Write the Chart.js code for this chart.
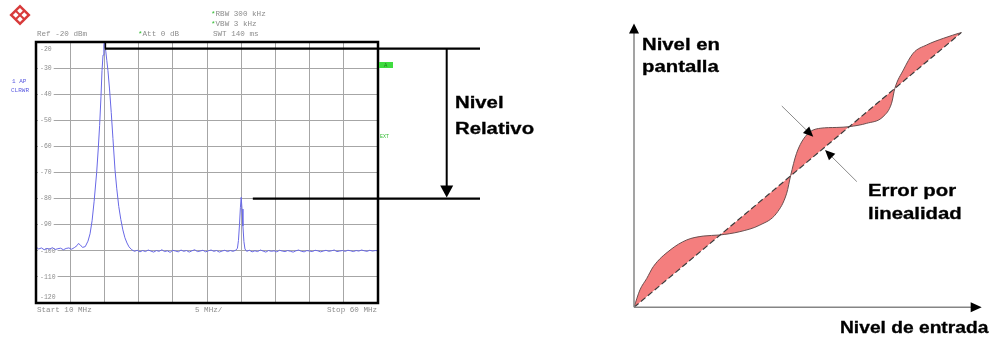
<!DOCTYPE html>
<html>
<head>
<meta charset="utf-8">
<script src="https://cdn.jsdelivr.net/npm/chart.js@4.4.1/dist/chart.umd.min.js"></script>
<style>
  html, body { margin: 0; padding: 0; background: #fff; }
  #wrap { position: relative; width: 1004px; height: 340px; overflow: hidden; }
  #spec { position: absolute; left: 0; top: 0; }
  #lin { position: absolute; left: 600px; top: 0; }
  .lbl { position: absolute; font: bold 16px "Liberation Sans", Arial, sans-serif; color: #000;
         transform: scaleX(1.27); transform-origin: 0 0; white-space: nowrap; line-height: 1;
         -webkit-text-stroke: 0.3px #000; }
  .lbl.narrow { transform: scaleX(1.2); }
  .mono { position: absolute; font: 7.6px "Liberation Mono", monospace; color: #8c8c8c;
          white-space: nowrap; line-height: 1; }
  .mono .g { color: #33bb33; }
  .blue { color: #5a5ae0; font-size: 6px; }
</style>
</head>
<body>
<div id="wrap">
  <canvas id="spec" width="540" height="340"></canvas>
  <canvas id="lin" width="404" height="340"></canvas>

  <div class="mono" style="left:211px;top:11px;"><span class="g">*</span>RBW  300 kHz</div>
  <div class="mono" style="left:211px;top:20.5px;"><span class="g">*</span>VBW  3 kHz</div>
  <div class="mono" style="left:37px;top:30.5px;">Ref -20 dBm</div>
  <div class="mono" style="left:138px;top:30.5px;"><span class="g">*</span>Att  0 dB</div>
  <div class="mono" style="left:213px;top:30.5px;">SWT  140 ms</div>
  <div class="mono blue" style="left:12px;top:79px;">1 AP</div>
  <div class="mono blue" style="left:11px;top:88px;">CLRWR</div>
  <div class="mono" style="left:37px;top:307px;">Start 10 MHz</div>
  <div class="mono" style="left:195px;top:306.5px;">5 MHz/</div>
  <div class="mono" style="left:327px;top:306.5px;">Stop 60 MHz</div>
  <div class="mono g" style="left:380px;top:135px;font-size:5px;color:#33bb33;">EXT</div>

  <div class="lbl" style="left:455px;top:94.5px;">Nivel</div>
  <div class="lbl" style="left:455px;top:120.5px;">Relativo</div>

  <div class="lbl" style="left:642px;top:37.2px;">Nivel en</div>
  <div class="lbl" style="left:642px;top:59px;">pantalla</div>
  <div class="lbl" style="left:868px;top:183.2px;">Error por</div>
  <div class="lbl" style="left:868px;top:205.8px;">linealidad</div>
  <div class="lbl narrow" style="left:840px;top:319.8px;">Nivel de entrada</div>
</div>

<script>
// Spectrum analyser trace: frequency (MHz) and displayed level (dBm)
const traceFreqMHz = [
  10.0, 10.4, 10.8, 11.2, 11.6, 12.0, 12.4, 12.8, 13.2, 13.6, 14.0, 14.4, 14.8, 15.2, 15.6,
  16.0, 16.2, 16.5, 16.8, 17.2, 17.6, 17.9, 18.2, 18.5, 18.87, 19.1, 19.3, 19.5, 19.65, 19.8,
  19.92, 20.0, 20.08, 20.2, 20.35, 20.52, 20.75, 21.0, 21.25, 21.55, 21.8, 22.1, 22.4, 22.7,
  23.0, 23.3, 23.6, 24.0,
  24.4, 24.8, 25.2, 25.6, 26.0, 26.4, 26.8, 27.2, 27.6, 28.0, 28.4, 28.8, 29.2, 29.6, 30.0,
  30.4, 30.8, 31.2, 31.6, 32.0, 32.4, 32.8, 33.2, 33.6, 34.0, 34.4, 34.8, 35.2, 35.6, 36.0,
  36.4, 36.8, 37.2, 37.6, 38.0, 38.4, 38.8, 39.2,
  39.45, 39.6, 39.75, 39.88, 40.0, 40.12, 40.25, 40.4, 40.55,
  40.8, 41.2, 41.6, 42.0, 42.4, 42.8, 43.2, 43.6, 44.0, 44.4, 44.8, 45.2, 45.6, 46.0, 46.4,
  46.8, 47.2, 47.6, 48.0, 48.4, 48.8, 49.2, 49.6, 50.0, 50.4, 50.8, 51.2, 51.6, 52.0, 52.4,
  52.8, 53.2, 53.6, 54.0, 54.4, 54.8, 55.2, 55.6, 56.0, 56.4, 56.8, 57.2, 57.6, 58.0, 58.4,
  58.8, 59.2, 59.6, 60.0
];
const traceLevelDbm = [
  -98.6, -99.3, -98.9, -99.6, -99.1, -99.4, -98.8, -99.5, -99.2, -99.0, -99.6, -99.1, -98.9, -99.4, -98.8,
  -98.0, -97.2, -97.8, -98.7, -98.4, -96.3, -93.5, -88.5, -81.0, -70.0, -61.0, -52.0, -41.0, -31.0, -25.0,
  -21.0, -20.0, -21.0, -23.5, -27.0, -31.0, -38.0, -47.0, -57.0, -69.0, -76.0, -83.0, -88.0, -92.0,
  -95.0, -97.0, -98.5, -99.6,
  -100.2, -99.8, -100.4, -99.9, -100.3, -99.7, -100.1, -100.5, -99.9, -100.2, -99.6, -100.3, -100.0, -100.6, -99.8,
  -100.1, -100.4, -99.7, -100.2, -99.9, -100.5, -100.0, -99.6, -100.3, -100.1, -99.8, -100.4, -100.0, -99.7, -100.2,
  -99.9, -100.5, -100.1, -99.8, -100.3, -99.9, -100.2, -99.8,
  -99.0, -96.0, -90.0, -83.5, -79.5, -84.0, -90.5, -96.5, -99.3,
  -100.2, -99.8, -100.4, -100.0, -100.3, -99.7, -100.1, -100.5, -99.9, -100.2, -100.0, -100.4, -99.8, -100.1, -100.3,
  -99.9, -100.2, -100.5, -100.0, -99.7, -100.2, -100.4, -99.9, -100.1, -100.3, -99.8, -100.0, -100.4, -100.1, -99.8,
  -100.2, -100.0, -99.7, -100.3, -100.1, -99.9, -100.2, -99.8, -100.0, -100.3, -99.9, -100.1, -99.7, -100.0, -100.2,
  -99.8, -100.1, -99.9, -100.0
];
// Screen grid: 10 divisions of 5 MHz, 10 dB/div from the -20 dBm reference
const freqStartMHz = 10, freqStopMHz = 60, freqDivMHz = 5;
const refLevelDbm = -20, bottomLevelDbm = -120, levelDivDb = 10;
// Levels compared by the "Nivel Relativo" markers
const markerHighDbm = -22.5, markerLowDbm = -80;

// Transfer curve: ideal (dashed diagonal) and real display level vs. input level
const idealInput = [0, 100];
const idealOutput = [0, 100];
const realInput = [0, 1.8, 3.9, 5.9, 11.0, 16.1, 21.1, 26.2, 32.3, 38.4, 43.5, 46.6, 47.8, 49.6, 52.7,
                   56.8, 61.9, 65.7, 71.0, 76.0, 78.6, 79.6, 82.2, 85.2, 89.3, 94.4, 100];
const realOutput = [0, 6.3, 10.5, 14.8, 20.8, 24.5, 25.9, 26.3, 27.5, 29.9, 34.2, 41.5, 47.9, 56.0, 62.7,
                    65.1, 65.4, 65.7, 66.9, 69.3, 74.2, 79.6, 86.3, 92.4, 95.4, 97.8, 100];

const tracePoints = traceFreqMHz.map((f, i) => ({ x: f, y: traceLevelDbm[i] }));
const idealPoints = idealInput.map((v, i) => ({ x: v, y: idealOutput[i] }));
const realPoints = realInput.map((v, i) => ({ x: v, y: realOutput[i] }));

function arrowHead(ctx, tipX, tipY, fromX, fromY, len, half) {
  const a = Math.atan2(tipY - fromY, tipX - fromX);
  ctx.beginPath();
  ctx.moveTo(tipX, tipY);
  ctx.lineTo(tipX - len * Math.cos(a) + half * Math.sin(a), tipY - len * Math.sin(a) - half * Math.cos(a));
  ctx.lineTo(tipX - len * Math.cos(a) - half * Math.sin(a), tipY - len * Math.sin(a) + half * Math.cos(a));
  ctx.closePath();
  ctx.fill();
}

// Level labels of the analyser screen, under the trace
const screenLabels = {
  id: 'screenLabels',
  beforeDatasetsDraw(chart) {
    const { ctx, chartArea: ca, scales: { y } } = chart;
    ctx.save();
    ctx.font = '6.5px "Liberation Mono", monospace';
    ctx.textBaseline = 'middle';
    y.ticks.forEach(t => {
      let py = y.getPixelForValue(t.value);
      if (t.value === refLevelDbm) py += 7;
      if (t.value === bottomLevelDbm) py -= 6;
      const txt = String(t.value);
      const w = ctx.measureText(txt).width;
      ctx.fillStyle = '#fff';
      ctx.fillRect(ca.left + 2, py - 3, w + 4, 6);
      ctx.fillStyle = '#8c8c8c';
      ctx.fillText(txt, ca.left + 4, py);
    });
    ctx.restore();
  }
};

// Frame, logo and the relative-level markers of the analyser screen
const screenDecor = {
  id: 'screenDecor',
  afterDraw(chart) {
    const { ctx, chartArea: ca, scales: { x, y } } = chart;
    ctx.save();
    // screen frame
    ctx.strokeStyle = '#000';
    ctx.lineWidth = 2.5;
    ctx.strokeRect(ca.left, ca.top, ca.right - ca.left, ca.bottom - ca.top);
    // green marker flag at the right edge
    ctx.fillStyle = '#3fdc3f';
    ctx.fillRect(379, 62, 14, 6);
    ctx.fillStyle = '#1c7a1c';
    ctx.font = '5px "Liberation Sans", sans-serif';
    ctx.textBaseline = 'middle';
    ctx.fillText('A', 384, 65.2);
    // logo
    ctx.translate(20, 15);
    ctx.rotate(Math.PI / 4);
    ctx.fillStyle = '#d83a3a';
    ctx.fillRect(-7.5, -7.5, 15, 15);
    ctx.fillStyle = '#fff';
    ctx.fillRect(-5, -5, 4, 4); ctx.fillRect(1, -5, 4, 4);
    ctx.fillRect(-5, 1, 4, 4); ctx.fillRect(1, 1, 4, 4);
    ctx.setTransform(1, 0, 0, 1, 0, 0);
    // relative level markers
    const peakX = x.getPixelForValue(20);
    const yHigh = y.getPixelForValue(markerHighDbm);
    const yLow = y.getPixelForValue(markerLowDbm);
    const endX = 480, arrowX = 446.7;
    ctx.strokeStyle = '#000';
    ctx.lineWidth = 2.2;
    ctx.beginPath();
    ctx.moveTo(peakX + 0.5, yHigh); ctx.lineTo(endX, yHigh);
    ctx.moveTo(x.getPixelForValue(41.7), yLow); ctx.lineTo(endX, yLow);
    ctx.stroke();
    ctx.lineWidth = 1.5;
    ctx.beginPath();
    ctx.moveTo(peakX + 1, ca.top + 1); ctx.lineTo(peakX + 1, yHigh);
    ctx.stroke();
    ctx.lineWidth = 2;
    ctx.beginPath();
    ctx.moveTo(arrowX, yHigh); ctx.lineTo(arrowX, yLow - 11);
    ctx.stroke();
    ctx.fillStyle = '#000';
    arrowHead(ctx, arrowX, yLow - 1, arrowX, yHigh, 12, 6.5);
    ctx.restore();
  }
};

new Chart(document.getElementById('spec'), {
  type: 'line',
  data: {
    datasets: [{
      data: tracePoints,
      borderColor: 'rgb(104,104,230)',
      borderWidth: 1,
      pointRadius: 0,
      tension: 0,
      fill: false
    }]
  },
  options: {
    responsive: false,
    animation: false,
    events: [],
    layout: { padding: { left: 36, top: 42, right: 162, bottom: 37 } },
    plugins: { legend: { display: false }, tooltip: { enabled: false } },
    scales: {
      x: {
        type: 'linear', min: freqStartMHz, max: freqStopMHz,
        ticks: { display: false, stepSize: freqDivMHz },
        grid: { color: '#a6a6a6', lineWidth: 1, drawTicks: false },
        border: { display: false },
        afterFit(s) { s.height = 0; }
      },
      y: {
        type: 'linear', min: bottomLevelDbm, max: refLevelDbm,
        ticks: { display: false, stepSize: levelDivDb },
        grid: { color: '#a6a6a6', lineWidth: 1, drawTicks: false },
        border: { display: false },
        afterFit(s) { s.width = 0; }
      }
    }
  },
  plugins: [screenLabels, screenDecor]
});

// Axes with arrows and the two pointers of the linearity error
const transferDecor = {
  id: 'transferDecor',
  afterDatasetsDraw(chart) {
    const { ctx, chartArea: ca, scales: { x, y } } = chart;
    ctx.save();
    const ox = ca.left, oy = ca.bottom;
    const yTip = 23.5, xTip = 381.7;
    ctx.strokeStyle = '#858585';
    ctx.lineWidth = 1.5;
    ctx.beginPath();
    ctx.moveTo(ox, oy); ctx.lineTo(ox, yTip + 8);
    ctx.moveTo(ox, oy); ctx.lineTo(xTip - 8, oy);
    ctx.stroke();
    ctx.fillStyle = '#000';
    arrowHead(ctx, ox, yTip, ox, oy, 10, 5);
    arrowHead(ctx, xTip, oy, ox, oy, 11, 5);
    // linearity error pointers
    const pointers = [
      [[45.1, 73.2], [54.7, 62.0]],
      [[68.0, 45.7], [58.3, 57.2]]
    ];
    pointers.forEach(([from, to]) => {
      const fx = x.getPixelForValue(from[0]), fy = y.getPixelForValue(from[1]);
      const tx = x.getPixelForValue(to[0]), ty = y.getPixelForValue(to[1]);
      const a = Math.atan2(ty - fy, tx - fx);
      ctx.strokeStyle = '#8a8a8a';
      ctx.lineWidth = 1;
      ctx.beginPath();
      ctx.moveTo(fx, fy); ctx.lineTo(tx - 8 * Math.cos(a), ty - 8 * Math.sin(a));
      ctx.stroke();
      ctx.fillStyle = '#000';
      arrowHead(ctx, tx, ty, fx, fy, 10, 4.5);
    });
    ctx.restore();
  }
};

new Chart(document.getElementById('lin'), {
  type: 'line',
  data: {
    datasets: [
      {
        label: 'Ideal',
        data: idealPoints,
        borderColor: '#3c3c3c',
        borderWidth: 1.2,
        borderDash: [6, 3],
        pointRadius: 0,
        tension: 0,
        fill: false
      },
      {
        label: 'Real',
        data: realPoints,
        borderColor: '#6a4f4f',
        borderWidth: 1,
        backgroundColor: '#f47e7e',
        pointRadius: 0,
        cubicInterpolationMode: 'monotone',
        fill: 0
      }
    ]
  },
  options: {
    responsive: false,
    animation: false,
    events: [],
    layout: { padding: { left: 34, top: 32.3, right: 42.3, bottom: 32.7 } },
    plugins: { legend: { display: false }, tooltip: { enabled: false } },
    scales: {
      x: { type: 'linear', min: 0, max: 100, display: false },
      y: { type: 'linear', min: 0, max: 100, display: false }
    }
  },
  plugins: [transferDecor]
});
</script>
</body>
</html>
